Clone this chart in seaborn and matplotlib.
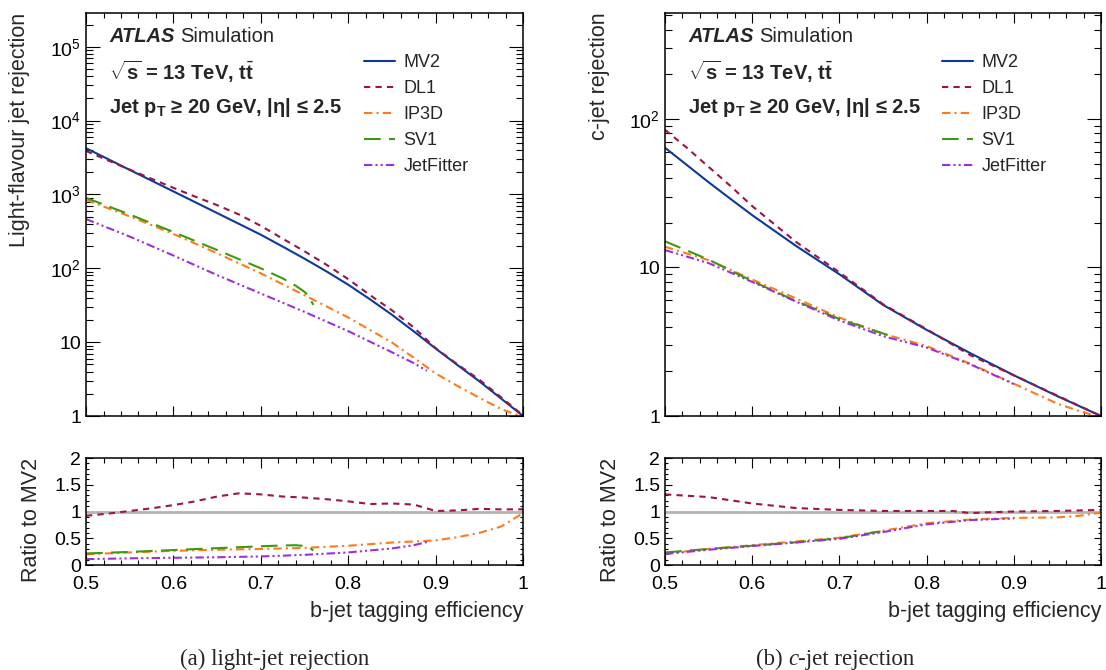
import numpy as np
import matplotlib
matplotlib.use("Agg")
import matplotlib.pyplot as plt
from matplotlib.ticker import MultipleLocator, LogLocator, NullFormatter
import seaborn as sns

sns.set_theme(style="ticks")
plt.rcParams['font.family'] = ['Liberation Sans', 'DejaVu Sans']
plt.rcParams['mathtext.fontset'] = 'custom'
plt.rcParams['mathtext.rm'] = 'Liberation Sans'
plt.rcParams['mathtext.it'] = 'Liberation Sans:italic'
plt.rcParams['mathtext.bf'] = 'Liberation Sans:bold'
plt.rcParams['axes.linewidth'] = 1.1

# ---------------- light-jet rejection ----------------
eff_light = [0.500, 0.525, 0.550, 0.575, 0.600, 0.625, 0.650, 0.675, 0.700, 0.725, 0.750,
             0.775, 0.800, 0.825, 0.850, 0.875, 0.900, 0.925, 0.950, 0.975, 1.000]
light_mv2 = [4230, 3020, 2150, 1540, 1100, 785, 560, 400, 285, 197, 135,
             91, 60, 38, 23.5, 14, 8.2, 4.9, 2.95, 1.72, 1.0]
light_dl1 = [3890, 2900, 2170, 1630, 1230, 934, 717, 536, 376, 252, 170,
             112, 71.4, 43.3, 27.0, 15.8, 8.3, 5.0, 3.1, 1.79, 1.02]
light_dl1_ratio = [0.92, 0.96, 1.01, 1.06, 1.12, 1.19, 1.28, 1.34, 1.32, 1.28, 1.26,
                   1.23, 1.19, 1.14, 1.15, 1.13, 1.01, 1.02, 1.05, 1.04, 1.04]

eff_light_ip3d = [0.50, 0.55, 0.60, 0.65, 0.70, 0.75, 0.80, 0.85, 0.875, 0.90, 0.925, 0.95, 0.975, 1.00]
light_ip3d = [846, 505, 292, 160, 85.5, 43.2, 21.6, 9.9, 6.16, 3.77, 2.55, 1.77, 1.24, 0.97]
light_ip3d_ratio = [0.20, 0.235, 0.265, 0.285, 0.30, 0.32, 0.36, 0.42, 0.44, 0.46, 0.52, 0.60, 0.72, 0.97]

eff_light_sv1 = [0.50, 0.55, 0.60, 0.65, 0.70, 0.725, 0.74, 0.75, 0.755, 0.76]
light_sv1 = [900, 535, 310, 177, 100, 73, 58, 48, 42, 32]
light_sv1_ratio = [0.215, 0.245, 0.28, 0.315, 0.35, 0.365, 0.37, 0.355, 0.335, 0.27]

eff_light_jf = [0.50, 0.55, 0.60, 0.65, 0.70, 0.75, 0.80, 0.85, 0.875, 0.89]
light_jf = [465, 269, 149, 81, 45.6, 25.7, 14.1, 7.3, 5.2, 4.1]
light_jf_ratio = [0.11, 0.125, 0.135, 0.145, 0.16, 0.19, 0.235, 0.31, 0.37, 0.43]

# ---------------- c-jet rejection ----------------
eff_c = [0.500, 0.525, 0.550, 0.575, 0.600, 0.650, 0.700, 0.750, 0.800, 0.850, 0.900, 0.950, 1.000]
c_mv2 = [64, 49, 37.5, 29, 22.5, 14.0, 9.0, 5.6, 3.8, 2.65, 1.88, 1.36, 1.0]
c_dl1 = [84.5, 64, 47.6, 35.4, 25.9, 14.9, 9.27, 5.66, 3.84, 2.57, 1.88, 1.37, 1.0]

eff_c_dl1_ratio = [0.50, 0.55, 0.60, 0.65, 0.70, 0.75, 0.80, 0.83, 0.85, 0.87, 0.90, 0.95, 1.00]
c_dl1_ratio = [1.32, 1.27, 1.15, 1.065, 1.03, 1.01, 1.01, 1.01, 0.97, 0.985, 1.0, 1.01, 1.03]

eff_c_ip3d = [0.50, 0.55, 0.60, 0.65, 0.70, 0.75, 0.80, 0.85, 0.90, 0.95, 0.975, 1.00]
c_ip3d = [13.8, 11.2, 8.3, 6.2, 4.6, 3.58, 2.96, 2.25, 1.65, 1.21, 1.08, 0.98]
c_ip3d_ratio = [0.215, 0.30, 0.37, 0.44, 0.51, 0.64, 0.78, 0.85, 0.88, 0.89, 0.92, 0.98]

eff_c_sv1 = [0.50, 0.55, 0.60, 0.65, 0.70, 0.756]
c_sv1 = [15.0, 11.3, 8.1, 5.95, 4.5, 3.5]
c_sv1_ratio = [0.235, 0.30, 0.36, 0.425, 0.50, 0.65]

eff_c_jf = [0.50, 0.55, 0.60, 0.65, 0.70, 0.75, 0.80, 0.85, 0.90]
c_jf = [13.1, 10.7, 8.0, 5.9, 4.4, 3.45, 2.89, 2.23, 1.64]
c_jf_ratio = [0.205, 0.285, 0.355, 0.42, 0.49, 0.615, 0.76, 0.84, 0.87]

# styles
col = {'MV2': '#0d3a99', 'DL1': '#9e1443', 'IP3D': '#ff7a1a', 'SV1': '#3c9a0c', 'JetFitter': '#9b30d9'}
ls = {'MV2': '-', 'DL1': (0, (3, 2.5)), 'IP3D': (0, (4, 2, 1, 2)),
      'SV1': (0, (8, 4)), 'JetFitter': (0, (4, 1.5, 1, 1.5, 1, 1.5))}
LW = 1.5


def line(ax, x, y, name, label=True):
    sns.lineplot(x=x, y=y, ax=ax, color=col[name], linestyle=ls[name], linewidth=LW,
                 estimator=None, errorbar=None, label=name if label else None)


def style_top(ax, ymax, yt, ytl):
    ax.set_yscale('log')
    ax.set_xlim(0.5, 1.0)
    ax.set_ylim(1, ymax)
    ax.xaxis.set_major_locator(MultipleLocator(0.1))
    ax.xaxis.set_minor_locator(MultipleLocator(0.02))
    ax.yaxis.set_minor_locator(LogLocator(base=10, subs=np.arange(2, 10)))
    ax.set_yticks(yt)
    ax.set_yticklabels(ytl)
    ax.yaxis.set_minor_formatter(NullFormatter())
    ax.tick_params(axis='both', which='both', direction='in', top=True, right=True,
                   labelbottom=False, labelsize=14, width=0.8, colors='black')
    ax.tick_params(axis='x', which='major', length=7)
    ax.tick_params(axis='x', which='minor', length=3.5)
    ax.tick_params(axis='y', which='major', length=10)
    ax.tick_params(axis='y', which='minor', length=5)
    ax.set_xlabel('')
    for s in ax.spines.values():
        s.set_color('black')


def style_ratio(ax):
    ax.set_xlim(0.5, 1.0)
    ax.set_ylim(0, 2)
    ax.xaxis.set_minor_locator(MultipleLocator(0.02))
    ax.yaxis.set_minor_locator(MultipleLocator(0.1))
    ax.set_yticks([0, 0.5, 1, 1.5, 2])
    ax.set_yticklabels(['0', '0.5', '1', '1.5', '2'])
    ax.set_xticks([0.5, 0.6, 0.7, 0.8, 0.9, 1.0])
    ax.set_xticklabels(['0.5', '0.6', '0.7', '0.8', '0.9', '1'])
    ax.tick_params(axis='both', which='both', direction='in', top=True, right=True,
                   labelsize=14, width=0.8, colors='black')
    ax.tick_params(axis='x', which='major', length=7, pad=8)
    ax.tick_params(axis='x', which='minor', length=3.5)
    ax.tick_params(axis='y', which='major', length=5)
    ax.tick_params(axis='y', which='minor', length=2.5)
    ax.set_xlabel('b-jet tagging efficiency', fontsize=15.5, ha='right')
    ax.xaxis.set_label_coords(1.0, -0.34)
    ax.set_ylabel('Ratio to MV2', fontsize=15.5, ha='right')
    ax.yaxis.set_label_coords(-0.10, 1.0)
    for s in ax.spines.values():
        s.set_color('black')


def labels_and_legend(ax):
    t = ax.text(0.053, 0.942, 'ATLAS', transform=ax.transAxes, fontsize=14.5,
                fontweight='bold', fontstyle='italic', va='center', ha='left')
    ax.annotate('Simulation', xy=(1, 0), xycoords=t, xytext=(4, 0), textcoords='offset points',
                fontsize=14.5, va='bottom', ha='left')
    ax.text(0.053, 0.853, r'$\sqrt{\mathbf{s}}$ = 13 TeV, $\mathbf{t}\bar{\mathbf{t}}$',
            transform=ax.transAxes, fontsize=14.5, fontweight='bold', va='center', ha='left')
    ax.text(0.053, 0.766, r'Jet $\mathbf{p}_{\mathbf{T}}$ ≥ 20 GeV, |η| ≤ 2.5',
            transform=ax.transAxes, fontsize=14.5, fontweight='bold', va='center', ha='left')
    ax.legend(loc='upper left', bbox_to_anchor=(0.635, 0.897), frameon=False, fontsize=13,
              borderpad=0, labelspacing=0.5, handlelength=1.75, handletextpad=0.45,
              borderaxespad=0)


fig = plt.figure(figsize=(11.06, 6.70), dpi=100)
ax_lt = fig.add_axes([0.0778, 0.3791, 0.3951, 0.602])
ax_lr = fig.add_axes([0.0778, 0.1567, 0.3951, 0.1597])
ax_rt = fig.add_axes([0.6013, 0.3791, 0.3942, 0.602])
ax_rr = fig.add_axes([0.6013, 0.1567, 0.3942, 0.1597])

# light-jet
line(ax_lt, eff_light, light_mv2, 'MV2')
line(ax_lt, eff_light, light_dl1, 'DL1')
line(ax_lt, eff_light_ip3d, light_ip3d, 'IP3D')
line(ax_lt, eff_light_sv1, light_sv1, 'SV1')
line(ax_lt, eff_light_jf, light_jf, 'JetFitter')
style_top(ax_lt, 2.9e5, [1, 10, 1e2, 1e3, 1e4, 1e5],
          ['1', '10', r'$10^{2}$', r'$10^{3}$', r'$10^{4}$', r'$10^{5}$'])
ax_lt.set_ylabel('Light-flavour jet rejection', fontsize=15.5, ha='right')
ax_lt.yaxis.set_label_coords(-0.128, 1.0)
labels_and_legend(ax_lt)

ax_lr.axhline(1.0, color='#b4b4b4', lw=2, zorder=1)
line(ax_lr, eff_light, light_dl1_ratio, 'DL1', label=False)
line(ax_lr, eff_light_ip3d, light_ip3d_ratio, 'IP3D', label=False)
line(ax_lr, eff_light_sv1, light_sv1_ratio, 'SV1', label=False)
line(ax_lr, eff_light_jf, light_jf_ratio, 'JetFitter', label=False)
style_ratio(ax_lr)

# c-jet
line(ax_rt, eff_c, c_mv2, 'MV2')
line(ax_rt, eff_c, c_dl1, 'DL1')
line(ax_rt, eff_c_ip3d, c_ip3d, 'IP3D')
line(ax_rt, eff_c_sv1, c_sv1, 'SV1')
line(ax_rt, eff_c_jf, c_jf, 'JetFitter')
style_top(ax_rt, 520, [1, 10, 1e2], ['1', '10', r'$10^{2}$'])
ax_rt.set_ylabel('c-jet rejection', fontsize=15.5, ha='right')
ax_rt.yaxis.set_label_coords(-0.126, 1.0)
labels_and_legend(ax_rt)

ax_rr.axhline(1.0, color='#b4b4b4', lw=2, zorder=1)
line(ax_rr, eff_c_dl1_ratio, c_dl1_ratio, 'DL1', label=False)
line(ax_rr, eff_c_ip3d, c_ip3d_ratio, 'IP3D', label=False)
line(ax_rr, eff_c_sv1, c_sv1_ratio, 'SV1', label=False)
line(ax_rr, eff_c_jf, c_jf_ratio, 'JetFitter', label=False)
style_ratio(ax_rr)

# sub-figure captions
cap_y = 1 - 659 / 670
fig.text(0.248, cap_y, '(a) light-jet rejection', fontsize=16.5,
         family='Liberation Serif', ha='center', va='center')
cap = fig.text(0.6835, cap_y, '(b) ', fontsize=16.5, family='Liberation Serif',
               ha='left', va='center')
c_it = fig.axes[0].annotate('c', xy=(1, 0), xycoords=cap, fontsize=16.5, family='Liberation Serif',
                            style='italic', va='bottom', ha='left', annotation_clip=False)
fig.axes[0].annotate('-jet rejection', xy=(1, 0), xycoords=c_it, fontsize=16.5,
                     family='Liberation Serif', va='bottom', ha='left', annotation_clip=False)

fig.savefig('out.png', dpi=100)
